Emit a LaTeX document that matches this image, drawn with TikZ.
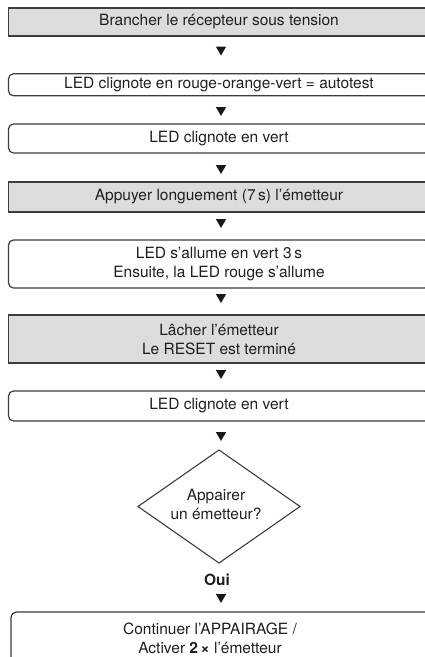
\documentclass[tikz,border=0pt]{standalone}
\usepackage{fontspec}
\setmainfont{TeX Gyre Heros}
\usetikzlibrary{shapes.geometric}
\definecolor{boxgray}{RGB}{219,220,222}
\definecolor{linegray}{RGB}{60,60,60}
\tikzset{
  basebox/.style={draw=linegray, line width=1.2pt, inner sep=0pt, minimum width=421pt,
     align=center, font=\fontsize{15.5}{19}\selectfont, text=black!88},
  graybox/.style={basebox, fill=boxgray},
  roundbox/.style={basebox, rounded corners=5pt},
  tri/.style={fill=black!90, draw=none, regular polygon, regular polygon sides=3, shape border rotate=180, minimum size=12pt, inner sep=0pt},
  lbl/.style={font=\fontsize{15.5}{19}\selectfont, text=black!88, align=center, inner sep=0pt}
}
\begin{document}
\begin{tikzpicture}[x=1pt,y=-1pt]
\useasboundingbox (0,0) rectangle (425,657);
\begin{scope}
\clip (0,0) rectangle (425,657);
\node[graybox, minimum height=28pt] (b1) at (219,22) {Brancher le récepteur sous tension};
\node[tri] (t1) at (221,49.5) {};
\node[roundbox, minimum height=22pt] (b2) at (219,84.75) {LED clignote en rouge-orange-vert = autotest};
\node[tri] (t2) at (221,110) {};
\node[roundbox, minimum height=29pt] (b3) at (219,138.5) {LED clignote en vert};
\node[tri] (t3) at (221,168) {};
\node[graybox, minimum height=30pt] (b4) at (219,197) {Appuyer longuement (7\,s) l’émetteur};
\node[tri] (t4) at (221,222) {};
\node[roundbox, minimum height=48pt] (b5) at (219,264) {LED s’allume en vert 3\,s\\Ensuite, la LED rouge s’allume};
\node[tri] (t5) at (221,297) {};
\node[graybox, minimum height=48pt] (b6) at (219,339) {Lâcher l’émetteur\\Le RESET est terminé};
\node[tri] (t6) at (221,373) {};
\node[roundbox, minimum height=30pt] (b7) at (219,406) {LED clignote en vert};
\node[tri] (t7) at (221,435) {};
\coordinate (dt) at (219,450);
\coordinate (db) at (219,563);
\coordinate (dl) at (138,506.5);
\coordinate (dr) at (300,506.5);
\draw[draw=linegray, line width=1.1pt] (dt) -- (dr) -- (db) -- (dl) -- cycle;
\node[lbl] (dq) at (216,504) {Appairer\\un émetteur?};
\node[lbl, font=\fontsize{15.5}{19}\selectfont\bfseries] (oui) at (217,580) {Oui};
\node[tri] (t8) at (221,597) {};
\draw[draw=linegray, line width=1.2pt, rounded corners=6pt] (11,690) |- (440,612);
\node[lbl] (b8) at (210,638) {Continuer l’APPAIRAGE /\\Activer \textbf{2\,×} l’émetteur};
\end{scope}
\end{tikzpicture}
\end{document}
